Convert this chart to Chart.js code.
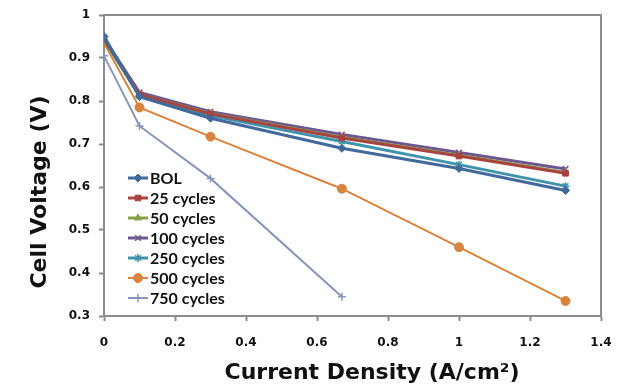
<!DOCTYPE html>
<html>
<head>
<meta charset="utf-8">
<script src="https://cdn.jsdelivr.net/npm/chart.js@4/dist/chart.umd.min.js"></script>
<style>
  html, body { margin: 0; padding: 0; background: #ffffff; }
  #wrap { width: 619px; height: 387px; position: relative; }
</style>
</head>
<body>
<div id="wrap"><canvas id="c"></canvas></div>
<script>
// Polarization curves after accelerated cycling
const currentDensity = [0, 0.1, 0.3, 0.67, 1.0, 1.3];
const currentDensity750 = [0, 0.1, 0.3, 0.67];

const seriesNames = ['BOL', '25 cycles', '50 cycles', '100 cycles', '250 cycles', '500 cycles', '750 cycles'];
const bol      = [0.950, 0.810, 0.760, 0.690, 0.643, 0.592];
const cyc25    = [0.945, 0.815, 0.770, 0.714, 0.672, 0.632];
const cyc50    = [0.945, 0.815, 0.771, 0.716, 0.674, 0.634];
const cyc100   = [0.946, 0.820, 0.775, 0.722, 0.680, 0.642];
const cyc250   = [0.942, 0.812, 0.766, 0.706, 0.652, 0.602];
const cyc500   = [0.935, 0.785, 0.717, 0.596, 0.460, 0.335];
const cyc750   = [0.905, 0.742, 0.620, 0.345];

const xTicks = [0, 0.2, 0.4, 0.6, 0.8, 1, 1.2, 1.4];
const yTicks = [0.3, 0.4, 0.5, 0.6, 0.7, 0.8, 0.9, 1];

const xTitle = 'Current Density (A/cm²)';
const yTitle = 'Cell Voltage (V)';

const colors = ['#41699c', '#a8433f', '#86a24b', '#6e5690', '#3f93aa', '#d9843d', '#8696b9'];
const styles = ['rectRot', 'rect', 'triangle', 'crossRot', 'star', 'circle', 'cross'];
const widths = [3, 3, 3, 3, 3, 2, 2];
const radii  = [4, 4, 4, 4, 4, 4.5, 4];

const allValues = [bol, cyc25, cyc50, cyc100, cyc250, cyc500, cyc750];

function pairs(xs, ys) { return ys.map((y, i) => ({ x: xs[i], y: y })); }

const datasets = allValues.map((vals, i) => ({
  label: seriesNames[i],
  data: pairs(i === 6 ? currentDensity750 : currentDensity, vals),
  borderColor: colors[i],
  backgroundColor: colors[i],
  borderWidth: widths[i],
  pointStyle: styles[i],
  pointRadius: radii[i],
  pointBorderWidth: (styles[i] === 'crossRot' || styles[i] === 'cross' || styles[i] === 'star') ? 1.5 : 1,
  pointBorderColor: colors[i],
  pointBackgroundColor: colors[i],
  tension: 0,
  fill: false
}));

const GREY = '#8c8c8c';
const TITLE_FONT = 'bold 22px "DejaVu Sans"';

// Frame on top and right edges of the plot area
const framePlugin = {
  id: 'frame',
  afterDatasetsDraw(chart) {
    const { ctx, chartArea: a } = chart;
    ctx.save();
    ctx.strokeStyle = GREY;
    ctx.lineWidth = 2;
    ctx.beginPath();
    ctx.moveTo(a.left, a.top);
    ctx.lineTo(a.right, a.top);
    ctx.lineTo(a.right, a.bottom);
    ctx.stroke();
    ctx.restore();
  }
};

// Axis titles, placed slightly off-centre like the original figure
const titlesPlugin = {
  id: 'axisTitles',
  afterDraw(chart) {
    const ctx = chart.ctx;
    ctx.save();
    ctx.fillStyle = '#111';
    ctx.font = TITLE_FONT;
    ctx.textAlign = 'center';
    ctx.textBaseline = 'middle';
    ctx.fillText(xTitle, 372, 373);
    ctx.translate(40, 192);
    ctx.rotate(-Math.PI / 2);
    ctx.fillText(yTitle, 0, 0);
    ctx.restore();
  }
};

// Legend drawn inside the plot, lower left
const legendPlugin = {
  id: 'insideLegend',
  afterDraw(chart) {
    const ctx = chart.ctx;
    const x0 = 128, x1 = 148, tx = 150, y0 = 178, step = 20;
    ctx.save();
    chart.data.datasets.forEach((ds, i) => {
      const y = y0 + i * step;
      ctx.strokeStyle = ds.borderColor;
      ctx.fillStyle = ds.borderColor;
      ctx.lineWidth = ds.borderWidth;
      ctx.beginPath();
      ctx.moveTo(x0, y);
      ctx.lineTo(x1, y);
      ctx.stroke();
      ctx.lineWidth = ds.pointBorderWidth;
      Chart.helpers.drawPoint(ctx, {
        pointStyle: ds.pointStyle,
        radius: ds.pointRadius,
        borderWidth: ds.pointBorderWidth,
        rotation: 0
      }, (x0 + x1) / 2, y);
      ctx.fillStyle = '#111';
      ctx.font = 'bold 16px Lato';
      ctx.textBaseline = 'middle';
      ctx.textAlign = 'left';
      ctx.fillText(ds.label, tx, y + 1);
    });
    ctx.restore();
  }
};

new Chart(document.getElementById('c'), {
  type: 'line',
  data: { datasets },
  plugins: [framePlugin, legendPlugin, titlesPlugin],
  options: {
    responsive: true,
    maintainAspectRatio: false,
    animation: false,
    devicePixelRatio: 1,
    layout: { padding: { top: 15, right: 18, left: 0, bottom: 0 } },
    plugins: {
      legend: { display: false },
      tooltip: { enabled: false }
    },
    scales: {
      x: {
        type: 'linear',
        min: 0,
        max: 1.4,
        afterBuildTicks(scale) { scale.ticks = xTicks.map(v => ({ value: v })); },
        afterFit(scale) { scale.height = 71; scale.paddingRight = 0; scale.paddingLeft = 0; },
        border: { color: GREY, width: 2 },
        grid: { drawOnChartArea: false, drawTicks: true, tickLength: 5, tickColor: GREY, tickWidth: 2 },
        ticks: {
          color: '#111',
          padding: 15,
          maxRotation: 0,
          font: { family: 'DejaVu Sans', weight: 'bold', size: 12 },
          callback: (v) => String(Math.round(v * 10) / 10)
        },
        title: { display: false }
      },
      y: {
        type: 'linear',
        min: 0.3,
        max: 1,
        afterBuildTicks(scale) { scale.ticks = yTicks.map(v => ({ value: v })); },
        afterFit(scale) { scale.width = 104; scale.paddingTop = 0; scale.paddingBottom = 0; },
        border: { color: GREY, width: 2 },
        grid: { drawOnChartArea: false, drawTicks: true, tickLength: 5, tickColor: GREY, tickWidth: 2 },
        ticks: {
          color: '#111',
          padding: 9,
          font: { family: 'DejaVu Sans', weight: 'bold', size: 12 },
          callback: (v) => String(Math.round(v * 10) / 10)
        },
        title: { display: false }
      }
    }
  }
});
</script>
</body>
</html>
